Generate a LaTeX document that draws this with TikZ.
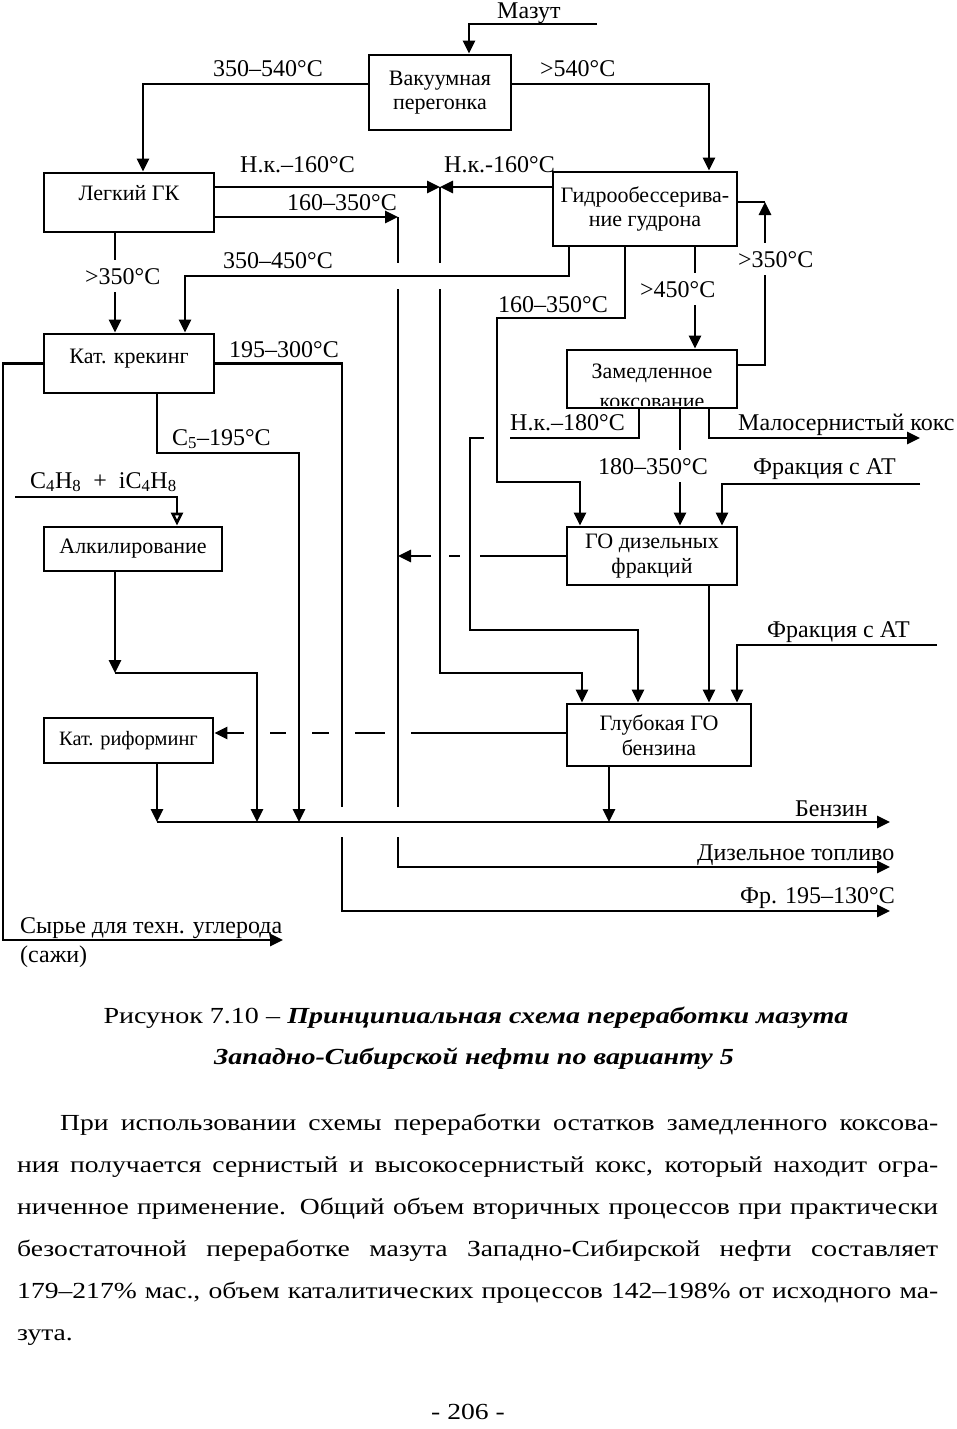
\documentclass[tikz,border=0pt]{standalone}
\usepackage{fontspec}
\setmainfont{Liberation Serif}
\newfontfamily\pagefont[FakeStretch=1.2]{Liberation Serif}
\newfontfamily\capfamily[FakeStretch=1.22]{Liberation Serif}
\usetikzlibrary{arrows.meta}

\newcommand{\lblfont}{\fontsize{24}{27}\selectfont}
\newcommand{\boxfont}{\fontsize{22}{24.5}\selectfont}
\newcommand{\txtfont}{\pagefont\fontsize{23}{42}\selectfont}
\newcommand{\capfont}{\capfamily\fontsize{23}{42}\selectfont}

\tikzset{
  box/.style={draw, line width=2.7pt, inner sep=0pt, font=\boxfont, align=center},
  pipe/.style={draw, line width=2.6pt},
  flow/.style={pipe, -{Triangle[length=13pt,width=12pt]}},
  openflow/.style={pipe, -{Triangle[open,length=13pt,width=12pt]}},
  halo/.style={preaction={draw=white, -, line width=#1, shorten <=14pt, shorten >=14pt}},
  halo/.default=26pt,
  lbl/.style={font=\lblfont, inner sep=0pt, anchor=base west},
  gaplbl/.style={lbl, fill=white, inner ysep=8pt},
  txt/.style={font=\txtfont, inner sep=0pt, anchor=base west},
}

\begin{document}
\begin{tikzpicture}[x=1pt, y=-1pt]
\useasboundingbox (0,0) rectangle (957,1429);

\node[box, minimum width=142pt, minimum height=75pt] (vac) at (440,92.5) {Вакуумная\\перегонка};
\node[box, minimum width=170pt, minimum height=59pt, text height=14pt, text depth=19pt] (lgk) at (129,202.5) {Легкий ГК};
\node[box, minimum width=184pt, minimum height=74pt] (gidro) at (645,209) {Гидрообессерива-\\ние гудрона};
\node[box, minimum width=170pt, minimum height=59pt, text height=14pt, text depth=15pt] (kk) at (129,363.5) {Кат. крекинг};
\node[box, minimum width=170pt, minimum height=58pt] (zam) at (652,379) {};
\node[box, minimum width=178pt, minimum height=44pt, text height=14pt, text depth=6pt] (alk) at (133,549) {Алкилирование};
\node[box, minimum width=170pt, minimum height=58pt] (god) at (652,556) {ГО дизельных\\фракций};
\node[box, minimum width=169pt, minimum height=45pt, font=\fontsize{20.4}{23}\selectfont, text height=13pt, text depth=4pt] (rif) at (128.5,740.5) {Кат. риформинг};
\node[box, minimum width=184pt, minimum height=62pt] (glub) at (659,735) {Глубокая ГО\\бензина};

\begin{scope}
  \clip ([shift={(1.3pt,-1.3pt)}]zam.north west) rectangle ([shift={(-1.3pt,4pt)}]zam.south east);
  \node[font=\boxfont, inner sep=0pt, anchor=base] (zam1) at (652,378) {Замедленное};
  \node[font=\boxfont, inner sep=0pt, anchor=base] (zam2) at (652,408) {коксование};
\end{scope}

\coordinate (maz) at (597,24);
\coordinate (j160) at (440,187);
\coordinate (dz) at (398,217);
\coordinate (c450) at (185,276);
\coordinate (c350) at (765,202);
\coordinate (g1) at (497,318);
\coordinate (g2) at (497,482);
\coordinate (n1) at (470,438);
\coordinate (n2) at (470,630);
\coordinate (koks) at (920,438);
\coordinate (at1) at (920,484);
\coordinate (at2) at (937,645);
\coordinate (k1) at (440,673);
\coordinate (b0) at (157,822);
\coordinate (benz) at (890,822);
\coordinate (d1) at (398,867);
\coordinate (dt) at (890,867);
\coordinate (k3) at (342,911);
\coordinate (ft) at (890,911);
\coordinate (c5) at (299,453);
\coordinate (s1) at (3,940);
\coordinate (st) at (283,940);
\coordinate (c4) at (15,497);
\coordinate (a1) at (115,673);
\coordinate (a2) at (257,673);

\draw[flow] (maz) -| ([xshift=29pt]vac.north);
\draw[flow] (vac.west |- 0,84) -| ([xshift=14pt]lgk.north);
\draw[flow] (vac.east |- 0,84) -| ([xshift=64pt]gidro.north);
\draw[flow] (lgk.east |- j160) -- (j160);
\draw[flow] (gidro.west |- j160) -- (j160);
\draw[flow] ([xshift=-14pt]lgk.south) -- ([xshift=-14pt]kk.north);
\draw[flow] (zam.east |- 0,365) -| (c350);
\draw[pipe] (c350) -- (gidro.east |- c350);
\draw[flow] ([xshift=50pt]gidro.south) -- ([xshift=43pt]zam.north);
\draw[flow] ([xshift=28pt]zam.south) -- ([xshift=28pt]god.north);
\draw[flow] ([xshift=57pt]zam.south) |- (koks);
\draw[flow] (at1) -| ([xshift=70pt]god.north);
\draw[flow] ([xshift=57pt]god.south) -- ([xshift=57pt]god.south |- glub.north);
\draw[flow] (at2) -| ([xshift=78pt]glub.north);
\draw[flow] (kk.west) -| (s1) -- (st);
\draw[openflow] (c4) -| ([xshift=44pt]alk.north);
\draw[flow] ([xshift=-18pt]alk.south) -- (a1);

\draw[flow] (glub.west |- 0,733) -- (rif.east |- 0,733);
\draw[flow, halo] (dz) -- (d1) -- (dt);
\draw[flow, halo] (kk.east) -| (k3) -- (ft);
\draw[flow] (god.west) -- (god.west -| dz);
\draw[flow, halo=18pt] (j160) -- (k1) -| ([xshift=-77pt]glub.north);
\draw[flow, halo=20pt] ([xshift=-13pt]zam.south) |- (n1) -- (n2) -| ([xshift=-21pt]glub.north);
\draw[flow, halo] ([xshift=-20pt]gidro.south) |- (g1) -- (g2) -| ([xshift=-72pt]god.north);
\draw[flow, halo] ([xshift=-76pt]gidro.south) |- (c450) -- (c450 |- kk.north);
\draw[flow, halo=30pt] (b0) -- (benz);
\draw[flow, halo] (a1) -- (a2) -- (a2 |- b0);
\draw[flow, halo] ([xshift=28pt]kk.south) |- (c5) -- (c5 |- b0);
\draw[flow] ([xshift=28.5pt]rif.south) -- ([xshift=28.5pt]rif.south |- b0);
\draw[flow] ([xshift=-50pt]glub.south) -- ([xshift=-50pt]glub.south |- b0);
\draw[flow] (lgk.east |- dz) -- (dz);

\node[lbl] (lmaz) at (497,19) {Мазут};
\node[lbl] (l1) at (213,77) {350–540°C};
\node[lbl] (l2) at (540,77) {>540°C};
\node[lbl] (l3) at (240,172) {Н.к.–160°C};
\node[lbl] (l4) at (444,172) {Н.к.-160°C};
\node[lbl] (l5) at (287,210) {160–350°C};
\node[lbl] (l6) at (223,268) {350–450°C};
\node[gaplbl] (l7) at (85,284) {>350°C};
\node[gaplbl] (l8) at (738,267) {>350°C};
\node[gaplbl] (l9) at (640,297) {>450°C};
\node[lbl] (l10) at (498,312) {160–350°C};
\node[lbl] (l11) at (229,357) {195–300°C};
\node[lbl] (l12) at (172,445) {C\textsubscript{5}–195°C};
\node[lbl] (l13) at (30,488) {C\textsubscript{4}H\textsubscript{8}\ \ +\ \ iC\textsubscript{4}H\textsubscript{8}};
\node[lbl] (l14) at (510,430) {Н.к.–180°C};
\node[lbl] (l15) at (738,430) {Малосернистый кокс};
\node[gaplbl] (l16) at (598,474) {180–350°C};
\node[lbl] (l17) at (753,474) {Фракция с АТ};
\node[lbl] (l18) at (767,637) {Фракция с АТ};
\node[lbl] (l19) at (795,816) {Бензин};
\node[lbl] (l20) at (697,860) {Дизельное топливо};
\node[lbl] (l21) at (740,903) {Фр. 195–130°C};
\node[lbl] (l22) at (20,933) {Сырье для техн. углерода};
\node[lbl] (l23) at (20,962) {(сажи)};

\node[font=\capfont, inner sep=0pt, anchor=base] (cap1) at (476,1023) {Рисунок 7.10 – \textbf{\textit{Принципиальная схема переработки мазута}}};
\node[font=\capfont, inner sep=0pt, anchor=base] (cap2) at (474,1064) {\textbf{\textit{Западно-Сибирской нефти по варианту 5}}};

\node[txt] (p1) at (17,1130) {\hbox to 921pt{\kern43pt При использовании схемы переработки остатков замедленного коксова-}};
\node[txt] (p2) at (17,1172) {\hbox to 921pt{ния получается сернистый и высокосернистый кокс, который находит огра-}};
\node[txt] (p3) at (17,1214) {\hbox to 921pt{ниченное применение. Общий объем вторичных процессов при практически}};
\node[txt] (p4) at (17,1256) {\hbox to 921pt{безостаточной переработке мазута Западно-Сибирской нефти составляет}};
\node[txt] (p5) at (17,1298) {\hbox to 921pt{179–217\% мас., объем каталитических процессов 142–198\% от исходного ма-}};
\node[txt] (p6) at (17,1340) {зута.};
\node[txt, anchor=base] (pg) at (468,1419) {- 206 -};
\end{tikzpicture}
\end{document}
